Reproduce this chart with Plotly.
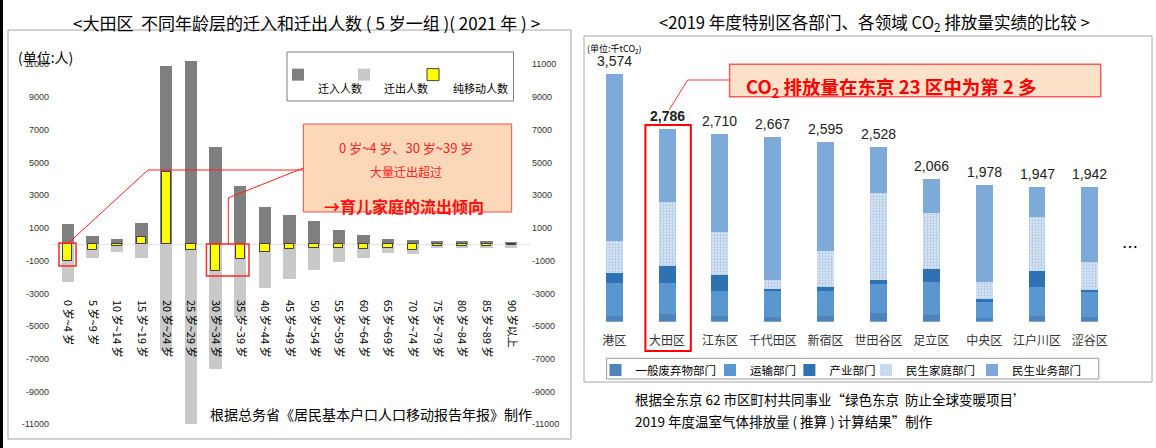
import numpy as np
import plotly.graph_objects as go

W, H = 1156, 448

# ---------------- Left chart data ----------------
age_groups = ["0 岁~4 岁", "5 岁~9 岁", "10 岁~14 岁", "15 岁~19 岁", "20 岁~24 岁",
              "25 岁~29 岁", "30 岁~34 岁", "35 岁~39 岁", "40 岁~44 岁", "45 岁~49 岁",
              "50 岁~54 岁", "55 岁~59 岁", "60 岁~64 岁", "65 岁~69 岁", "70 岁~74 岁",
              "75 岁~79 岁", "80 岁~84 岁", "85 岁~89 岁", "90 岁以上"]
moved_in = [1250, 500, 350, 1300, 10900, 11200, 5950, 3550, 2250, 1800,
            1400, 900, 550, 350, 250, 200, 200, 200, 170]
moved_out = [-2300, -850, -450, -850, -6500, -11000, -7600, -4450, -2650, -2100,
             -1600, -1100, -820, -550, -600, -250, -250, -250, -200]
net_move = [-1050, -350, -100, 450, 4400, -350, -1650, -900, -450, -300,
            -200, -250, -270, -200, -350, -100, -100, -100, -50]
left_ticks = [11000, 9000, 7000, 5000, 3000, 1000, -1000, -3000, -5000, -7000, -9000, -11000]
left_series = ["迁入人数", "迁出人数", "纯移动人数"]

# ---------------- Right chart data ----------------
wards = ["港区", "大田区", "江东区", "千代田区", "新宿区", "世田谷区", "足立区", "中央区", "江户川区", "涩谷区"]
waste = [87, 111, 82, 72, 82, 122, 97, 58, 87, 72]
transport = [478, 444, 362, 376, 362, 420, 473, 232, 420, 353]
industry = [136, 250, 232, 20, 62, 62, 198, 35, 227, 33]
household = [468, 922, 618, 135, 521, 1258, 800, 255, 786, 410]
business = [2405, 1059, 1416, 2064, 1568, 666, 498, 1398, 427, 1074]
totals = [3574, 2786, 2710, 2667, 2595, 2528, 2066, 1978, 1947, 1942]
sector_names = ["一般废弃物部门", "运输部门", "产业部门", "民生家庭部门", "民生业务部门"]

CJK = "Noto Sans CJK SC"


def px(x):
    return x / W


def py(y):
    return 1 - y / H


fig = go.Figure()

# ---- left chart bars (legend text sits one line under its swatch, as in the original) ----
left_specs = [
    (moved_in, "#7f7f7f", dict(width=0), 0.5, "legend"),
    (moved_out, "#c9c9c9", dict(width=0), 0.5, "legend2"),
    (net_move, "#ffff00", dict(width=1, color="#404040"), 0.38, "legend3"),
]
for name, (vals, col, line, wd, lg) in zip(left_series, left_specs):
    fig.add_trace(go.Bar(x=age_groups, y=vals, name=" <br>" + name, width=wd,
                         marker=dict(color=col, line=line),
                         xaxis="x", yaxis="y", legend=lg))
# invisible companion so that the mirrored right-hand axis is drawn
fig.add_trace(go.Scatter(x=age_groups, y=moved_in, mode="none", showlegend=False,
                         hoverinfo="skip", xaxis="x", yaxis="y2"))

# ---- right chart stacked bars (explicit base) ----
segments = [waste, transport, industry, household, business]
seg_colors = ["#4f84bb", "#5a96d0", "#2e72b4", "#b9d0ea", "#7daad9"]
seg_legends = ["legend4", "legend5", "legend6", "legend7", "legend8"]
base = np.zeros(len(wards))
for name, vals, col, lg in zip(sector_names, segments, seg_colors, seg_legends):
    marker = dict(color=col, line=dict(width=0))
    if name == "民生家庭部门":
        marker["pattern"] = dict(shape=".", fgcolor="#7fa8d8", bgcolor="#dde8f5",
                                 size=3, solidity=0.45)
    fig.add_trace(go.Bar(x=wards, y=vals, base=base.tolist(), name=name, width=0.32,
                         marker=marker, xaxis="x3", yaxis="y3", legend=lg))
    base = base + np.array(vals)

# ---- axes ----
y_top_px, y_bot_px = 40, 436
zero_px, unit_px = 244.3, 16.364 / 1000
ymax = (zero_px - y_top_px) / unit_px
ymin = -(y_bot_px - zero_px) / unit_px
tick_text = [str(v) for v in left_ticks]

c0, step = 67.7, 24.64
xl_px, xr_px = 50, 531

r_c0, r_step = 614.2, 52.85
rx_l, rx_r = 590, 1140
r_bot, r_scale = 321.7, 0.0692
r_top = 4000

tickfont_num = dict(size=9, family="Liberation Sans", color="#333333")


def legend_box(x_text, y_mid, size, valign="middle"):
    return dict(orientation="h", x=px(x_text - 38), y=py(y_mid), xanchor="left",
                yanchor="middle", bgcolor="rgba(0,0,0,0)", borderwidth=0, valign=valign,
                font=dict(size=size, family=CJK, color="#000"))


fig.update_layout(
    width=W, height=H, autosize=False,
    margin=dict(l=0, r=0, t=0, b=0),
    paper_bgcolor="white", plot_bgcolor="rgba(0,0,0,0)",
    barmode="overlay", bargap=0,
    font=dict(family=CJK, color="#000000"),
    xaxis=dict(domain=[px(xl_px), px(xr_px)], type="category", categoryarray=age_groups,
               range=[(xl_px - c0) / step, (xr_px - c0) / step],
               anchor="free", position=py(299), tickangle=90, ticks="", showline=False,
               showgrid=False, zeroline=False, tickfont=dict(size=11, family=CJK, color="#000")),
    yaxis=dict(domain=[py(y_bot_px), py(y_top_px)], range=[ymin, ymax], anchor="x",
               tickvals=left_ticks, ticktext=tick_text, ticks="", showgrid=False,
               zeroline=True, zerolinecolor="#e4e4e4", zerolinewidth=1, showline=False,
               tickfont=tickfont_num),
    yaxis2=dict(overlaying="y", side="right", anchor="x", range=[ymin, ymax],
                tickvals=left_ticks, ticktext=tick_text, ticks="", showgrid=False,
                zeroline=False, showline=False, tickfont=tickfont_num),
    xaxis3=dict(domain=[px(rx_l), px(rx_r)], type="category", categoryarray=wards,
                range=[(rx_l - r_c0) / r_step, (rx_r - r_c0) / r_step],
                anchor="y3", ticks="", showline=False, showgrid=False, zeroline=False,
                ticklabelstandoff=10, tickfont=dict(size=12, family=CJK, color="#333333")),
    yaxis3=dict(domain=[py(r_bot), py(r_bot - r_top * r_scale)], range=[0, r_top],
                anchor="x3", visible=False),
    legend=legend_box(316, 82, 11, "top"),
    legend2=legend_box(382, 82, 11, "top"),
    legend3=legend_box(451, 82, 11, "top"),
    legend4=legend_box(633.5, 370, 11.5),
    legend5=legend_box(748, 370, 11.5),
    legend6=legend_box(827.4, 370, 11.5),
    legend7=legend_box(904, 370, 11.5),
    legend8=legend_box(1010, 370, 11.5),
)


def rect(x0, y0, x1, y1, line="#a6a6a6", width=1, fill="rgba(0,0,0,0)"):
    return dict(type="rect", xref="paper", yref="paper", x0=px(x0), x1=px(x1),
                y0=py(y1), y1=py(y0), line=dict(color=line, width=width), fillcolor=fill,
                layer="above")


def path(points, color="#ff2020", width=1):
    d = "M " + " L ".join(f"{px(a)},{py(b)}" for a, b in points)
    return dict(type="path", xref="paper", yref="paper", path=d,
                line=dict(color=color, width=width), layer="above")


shapes = [
    dict(type="rect", xref="paper", yref="paper", x0=0, x1=px(3), y0=0, y1=1,
         line=dict(width=0), fillcolor="#000000", layer="above"),
    rect(8, 30, 571, 439),
    rect(584, 36, 1152, 382),
    rect(287, 52, 513.5, 101, line="#7f7f7f"),
    dict(type="rect", xref="paper", yref="paper", x0=px(303.4), x1=px(511.7),
         y0=py(212), y1=py(124), line=dict(color="#ff4a4a", width=1),
         fillcolor="#fcd8b8", layer="below"),
    rect(59, 243, 76, 266, line="#ff2a2a", width=1.5),
    rect(206.4, 244, 249, 276, line="#ff2a2a", width=1.5),
    path([(68.4, 243), (148, 170), (303.4, 170)]),
    path([(228.3, 244), (228.3, 198), (303.4, 168)]),
    dict(type="rect", xref="paper", yref="paper", x0=px(729.6), x1=px(1100.7),
         y0=py(96.7), y1=py(64.3), line=dict(color="#ff5a5a", width=1.5),
         fillcolor="#fde1c8", layer="below"),
    path([(669, 110), (687.7, 80), (729.6, 80)], color="#ff3a3a", width=1),
    rect(645.4, 125, 690.8, 351, line="#ff0000", width=2),
    rect(606.6, 358.3, 1098.8, 379, line="#9a9a9a"),
]


def ann(x, y, text, size, color="#000000", xanchor="center", bold=False, family=CJK):
    if bold:
        text = f"<b>{text}</b>"
    return dict(x=px(x), y=py(y), xref="paper", yref="paper", text=text, showarrow=False,
                xanchor=xanchor, yanchor="middle",
                font=dict(size=size, color=color, family=family))


annotations = [
    ann(306, 22, "<大田区  不同年龄层的迁入和迁出人数 ( 5 岁一组 )( 2021 年 ) >", 17),
    ann(16, 57, "(单位:人)", 14, xanchor="left"),
    ann(406, 147, "0 岁~4 岁、30 岁~39 岁", 13, color="#ff2020"),
    ann(406, 171, "大量迁出超过", 12, color="#ff2020"),
    ann(404, 206, "→育儿家庭的流出倾向", 16, color="#ff1010", bold=True),
    ann(208, 414, "根据总务省《居民基本户口人口移动报告年报》制作", 14, xanchor="left"),
    ann(874, 23, "<2019 年度特别区各部门、各领域 CO<sub>2</sub> 排放量实绩的比较 >", 16.6),
    ann(585, 49, "(单位:千tCO<sub>2</sub>)", 9, xanchor="left"),
    ann(744, 88, "CO<sub>2</sub> 排放量在东京 23 区中为第 2 多", 18.5, color="#ff0000",
        xanchor="left", bold=True),
    ann(1130, 246, "…", 16),
    ann(633, 399, "根据全东京 62 市区町村共同事业“绿色东京  防止全球变暖项目’", 13.5, xanchor="left"),
    ann(633, 421, "2019 年度温室气体排放量 ( 推算 ) 计算结果”制作", 13.5, xanchor="left"),
]

# total labels above each stacked bar, anchored to the data scale
for w, t in zip(wards, totals):
    label = f"{t:,}"
    if w == "大田区":
        label = f"<b>{label}</b>"
    annotations.append(dict(x=w, y=t, xref="x3", yref="y3", text=label, showarrow=False,
                            xanchor="center", yanchor="bottom", yshift=3,
                            font=dict(size=14, color="#222222", family="Liberation Sans")))

fig.update_layout(shapes=shapes, annotations=annotations)
fig.write_html("out.html", config={"displayModeBar": False},
               post_script="document.body.style.margin='0px';"
                           "document.body.style.padding='0px';"
                           "document.body.style.overflow='hidden';")
